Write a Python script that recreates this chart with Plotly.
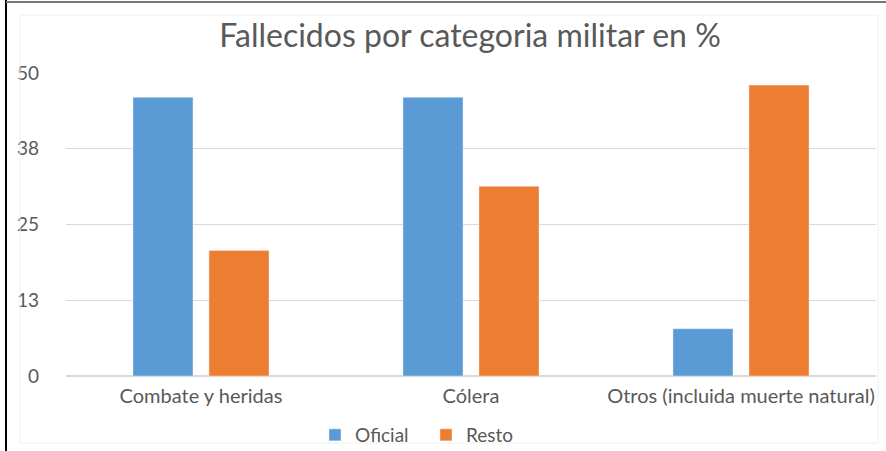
import plotly.graph_objects as go

categories = ["Combate y heridas", "Cólera", "Otros (incluida muerte natural)"]
oficial = [46.0, 46.0, 7.8]
resto = [20.7, 31.3, 48.0]
tick_vals = [0, 12.5, 25, 37.5, 50]
tick_text = ["0", "13", "25", "38", "50"]

W, H = 886, 451
L, R, T, B = 66, 10, 73, 75
pw, ph = W - L - R, H - T - B

def px_x(x):
    return (x - L) / pw

def px_y(y):
    return (H - B - y) / ph

FONT = "Lato"
GRAY = "#595959"

fig = go.Figure()
fig.add_trace(go.Bar(name="Oficial", x=categories, y=oficial, marker_color="#5B9BD5"))
fig.add_trace(go.Bar(name="Resto", x=categories, y=resto, marker_color="#ED7D31"))

fig.update_layout(
    width=W, height=H,
    margin=dict(l=L, r=R, t=T, b=B, autoexpand=False),
    paper_bgcolor="white", plot_bgcolor="white",
    font=dict(family=FONT, color=GRAY, size=19),
    title=dict(text="Fallecidos por categoria militar en %", x=px_x(470), xref="paper",
               xanchor="center", y=1 - 36 / H, yanchor="middle",
               font=dict(size=32, color=GRAY, family=FONT)),
    barmode="group", bargap=0.437, bargroupgap=0.21,
    showlegend=True,
    legend=dict(orientation="h", xref="container", x=315 / W, xanchor="left",
                yref="container", y=(H - 435) / H, yanchor="middle",
                font=dict(size=19, color=GRAY), itemwidth=30, entrywidth=66,
                bgcolor="rgba(0,0,0,0)"),
    xaxis=dict(showgrid=False, showline=False, ticks="", automargin=False,
               tickfont=dict(size=20, color=GRAY), ticklabelstandoff=6),
    yaxis=dict(range=[0, 50], tickvals=tick_vals, ticktext=tick_text, showgrid=True,
               gridcolor="#d9d9d9", gridwidth=1, zeroline=True, zerolinecolor="#d9d9d9",
               showline=False, ticks="", ticklabelstandoff=26, automargin=False,
               tickfont=dict(size=19, color=GRAY)),
    shapes=[
        dict(type="line", xref="paper", yref="paper", x0=px_x(6), x1=px_x(6),
             y0=px_y(0), y1=px_y(451), line=dict(color="black", width=2)),
        dict(type="line", xref="paper", yref="paper", x0=px_x(6), x1=px_x(886),
             y0=px_y(2), y1=px_y(2), line=dict(color="#777777", width=2)),
        dict(type="rect", xref="paper", yref="paper", x0=px_x(20), x1=px_x(878),
             y0=px_y(15), y1=px_y(443), line=dict(color="#f0f0f0", width=1)),
    ],
)

fig.write_html("out.html", config={"displayModeBar": False},
               post_script="document.body.style.margin='0';document.body.style.overflow='hidden';")
